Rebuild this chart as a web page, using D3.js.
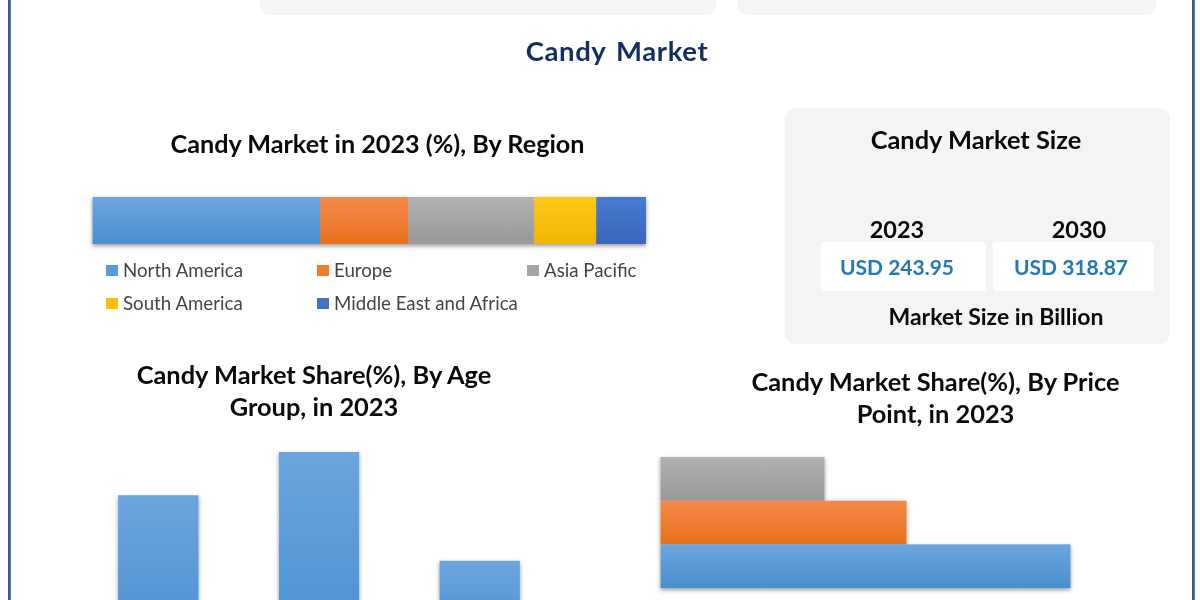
<!DOCTYPE html>
<html><head><meta charset="utf-8">
<script src="https://cdn.jsdelivr.net/npm/d3@7"></script>
<style>html,body{margin:0;padding:0;background:#fff;overflow:hidden}svg{display:block;filter:blur(0.35px)}text{font-family:Lato,"Open Sans",sans-serif}</style>
</head><body><script>
const mainTitle = "Candy Market";
const regionTitle = "Candy Market in 2023 (%), By Region";
const regions = ["North America","Europe","Asia Pacific","South America","Middle East and Africa"];
const regionValues = [41.1,15.9,22.8,11.2,9.0];
const regionColors = ["#5b9bd5","#ed7d31","#a5a5a5","#ffc000","#4472c4"];
const ageTitle = ["Candy Market Share(%), By Age","Group, in 2023"];
const ageGroups = ["Group A","Group B","Group C"];
const ageValues = [36.2,47,19.8];
const priceTitle = ["Candy Market Share(%), By Price","Point, in 2023"];
const pricePoints = ["Premium","Mid-Range","Economy"];
const priceValues = [20,30,50];
const priceColors = ["#a5a5a5","#ed7d31","#5b9bd5"];
const sizeTitle = "Candy Market Size";
const sizeYears = ["2023","2030"];
const sizeLabels = ["USD 243.95","USD 318.87"];
const sizeCaption = "Market Size in Billion";

const gradientStops = {
  "#5b9bd5":["#6ca5de","#4a8fd0"],
  "#ed7d31":["#f38a4b","#e9701c"],
  "#a5a5a5":["#b2b2b2","#989898"],
  "#ffc000":["#ffc91c","#eeb600"],
  "#4472c4":["#4a7bd0","#3a66bb"]
};

const svg = d3.select("body").append("svg").attr("width",1200).attr("height",600);
const defs = svg.append("defs");
const gid = c => "g"+c.slice(1);
regionColors.forEach(c=>{
  const g = defs.append("linearGradient").attr("id",gid(c)).attr("x1",0).attr("x2",0).attr("y1",0).attr("y2",1);
  g.append("stop").attr("offset","0%").attr("stop-color",gradientStops[c][0]);
  g.append("stop").attr("offset","100%").attr("stop-color",gradientStops[c][1]);
});
const sh = defs.append("filter").attr("id","shadow").attr("x","-5%").attr("y","-5%").attr("width","110%").attr("height","120%");
sh.append("feDropShadow").attr("dx",0).attr("dy",2).attr("stdDeviation",2).attr("flood-color","#000").attr("flood-opacity",0.4);

// frame
svg.append("rect").attr("x",8).attr("y",-5).attr("width",2.8).attr("height",610).attr("fill","#2f5f8f");
svg.append("rect").attr("x",1192).attr("y",-5).attr("width",2.8).attr("height",610).attr("fill","#2a6478");
// cut-off panels at top
[[260,456],[738,418]].forEach(p=>svg.append("rect").attr("x",p[0]).attr("y",-30).attr("width",p[1]).attr("height",45).attr("rx",9).attr("fill","#f5f5f5"));

const txt=(s,x,y,size,fill,weight,anchor)=>svg.append("text").text(s).attr("x",x).attr("y",y).attr("font-size",size).attr("fill",fill).attr("font-weight",weight||400).attr("text-anchor",anchor||"middle");

txt(mainTitle,617,60.5,27.5,"#12305f",700).attr("letter-spacing",0.6).attr("word-spacing",3);
txt(regionTitle,377.5,152.8,25.2,"#0a0a0a",700);

// stacked region bar
const xRegion = d3.scaleLinear().domain([0,d3.sum(regionValues)]).range([92.5,646]);
const stacked = d3.cumsum(regionValues);
const gRegion = svg.append("g").attr("filter","url(#shadow)");
gRegion.selectAll("rect").data(regionValues).join("rect")
  .attr("x",(d,i)=>xRegion(stacked[i]-d)).attr("width",d=>xRegion(d)-xRegion(0))
  .attr("y",197).attr("height",47)
  .attr("fill",(d,i)=>`url(#${gid(regionColors[i])})`);

// legend
const legendX=[106,317,527], legendY=[265,298];
const legendCells=[[0,0],[1,0],[2,0],[0,1],[1,1]];
regions.forEach((r,i)=>{
  const [cx,cy]=legendCells[i];
  svg.append("rect").attr("x",legendX[cx]).attr("y",legendY[cy]).attr("width",12).attr("height",11).attr("fill",regionColors[i]);
  txt(r,legendX[cx]+17,legendY[cy]+11.5,18.7,"#444",400,"start");
});

// market size panel
svg.append("rect").attr("x",785).attr("y",108).attr("width",385).attr("height",236).attr("rx",11).attr("fill","#f4f4f4");
txt(sizeTitle,976,148.8,25.4,"#0a0a0a",700);
const boxX=[821,993], boxW=[165,161], yearX=[897,1079], valX=[897,1071];
sizeYears.forEach((y,i)=>{
  svg.append("rect").attr("x",boxX[i]).attr("y",242).attr("width",boxW[i]).attr("height",49).attr("rx",3).attr("fill","#fff");
  txt(y,yearX[i],238,23.5,"#0a0a0a",700);
  txt(sizeLabels[i],valX[i],274.5,21,"#2279b5",700);
});
txt(sizeCaption,996,324.8,23,"#0a0a0a",700);

// age chart
ageTitle.forEach((t,i)=>txt(t,314,383.8+i*32.5,25.4,"#0a0a0a",700));
const xAge = d3.scaleBand().domain(ageGroups).range([78,560]).paddingInner(0.5).paddingOuter(0.25);
const yAge = d3.scaleLinear().domain([0,50]).range([640,440]);
svg.append("g").attr("filter","url(#shadow)").selectAll("rect").data(ageValues).join("rect")
  .attr("x",(d,i)=>xAge(ageGroups[i])).attr("width",xAge.bandwidth())
  .attr("y",d=>yAge(d)).attr("height",d=>yAge(0)-yAge(d))
  .attr("fill",`url(#${gid("#5b9bd5")})`);

// price chart
priceTitle.forEach((t,i)=>txt(t,935.5,390.8+i*32.5,25.4,"#0a0a0a",700));
const xPrice = d3.scaleLinear().domain([0,50]).range([660.5,1070.5]);
const yPrice = d3.scaleBand().domain(pricePoints).range([457,588]);
svg.append("g").attr("filter","url(#shadow)").selectAll("rect").data(priceValues).join("rect")
  .attr("x",xPrice(0)).attr("width",d=>xPrice(d)-xPrice(0))
  .attr("y",(d,i)=>yPrice(pricePoints[i])).attr("height",yPrice.bandwidth())
  .attr("fill",(d,i)=>`url(#${gid(priceColors[i])})`);
</script></body></html>
